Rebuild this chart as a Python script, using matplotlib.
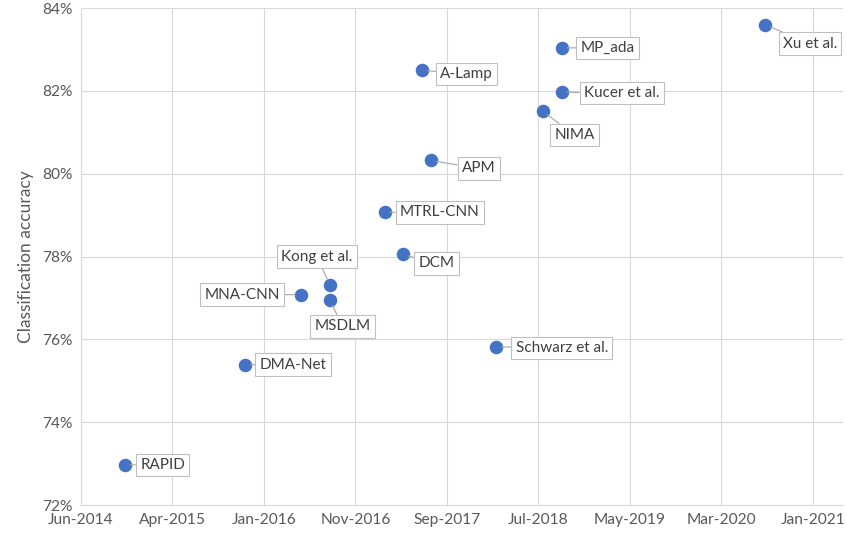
import numpy as np
import matplotlib
matplotlib.use("Agg")
import matplotlib.pyplot as plt
import matplotlib.dates as mdates
import matplotlib.ticker as mticker

# published models: release date and classification accuracy (%)
models = ["RAPID", "DMA-Net", "MNA-CNN", "Kong et al.", "MSDLM", "MTRL-CNN", "DCM",
          "A-Lamp", "APM", "Schwarz et al.", "NIMA", "MP_ada", "Kucer et al.", "Xu et al."]
dates = ["2014-10-31", "2015-11-30", "2016-05-31", "2016-09-03", "2016-09-03", "2017-03-02",
         "2017-04-30", "2017-07-01", "2017-07-31", "2018-03-01", "2018-08-02", "2018-10-03",
         "2018-10-03", "2020-07-31"]
accuracy = [72.97, 75.39, 77.08, 77.32, 76.94, 79.07, 78.05,
            82.50, 80.32, 75.82, 81.51, 83.04, 81.97, 83.60]

# label offsets in pixels (box centre relative to point)
offsets = [(38, 0), (48, 0), (-59, 0), (-13, 28), (13, -26), (55, 0), (34, -9),
           (45, -4), (48, -8), (66, -1), (32, -24), (46, 0), (60, -1), (45, -19)]

tick_start = np.datetime64("2014-06-10")
tick_step = 300  # days

plt.rcParams["font.family"] = ["Lato", "DejaVu Sans"]

fig = plt.figure(figsize=(8.47, 5.40), dpi=100)
ax = fig.add_axes([0.0956, 0.0648, 0.8994, 0.9202])

x = mdates.date2num(np.array(dates, dtype="datetime64[D]"))
ax.scatter(x, accuracy, s=95, color="#4472C4", zorder=3, linewidths=0)

for name, xi, yi, (dx, dy) in zip(models, x, accuracy, offsets):
    ax.annotate(name, (xi, yi), xytext=(dx, dy), textcoords="offset pixels",
                ha="center", va="center", fontsize=11, color="#404040",
                bbox=dict(boxstyle="square,pad=0.28", fc="white", ec="#BFBFBF", lw=0.8),
                arrowprops=dict(arrowstyle="-", color="#A6A6A6", lw=0.8,
                                shrinkA=0, shrinkB=4),
                zorder=4)

ticks = [tick_start + np.timedelta64(tick_step * k, "D") for k in range(9)]
ax.set_xticks(mdates.date2num(np.array(ticks)))
ax.xaxis.set_major_formatter(mdates.DateFormatter("%b-%Y"))
ax.set_xlim(mdates.date2num(tick_start), mdates.date2num(tick_start + np.timedelta64(2498, "D")))

ax.set_ylim(72, 84)
ax.set_yticks(np.arange(72, 85, 2))
ax.yaxis.set_major_formatter(mticker.FuncFormatter(lambda v, p: f"{v:.0f}%"))

ax.grid(True, color="#D9D9D9", lw=0.8)
ax.set_axisbelow(True)
for side in ["top", "right"]:
    ax.spines[side].set_visible(False)
for side in ["left", "bottom"]:
    ax.spines[side].set_color("#D9D9D9")
ax.tick_params(length=0, labelsize=11.2, colors="#595959", pad=6)

ax.set_ylabel("Classification accuracy", fontsize=12.5, color="#595959", labelpad=6)

fig.savefig("out.png", dpi=100)
